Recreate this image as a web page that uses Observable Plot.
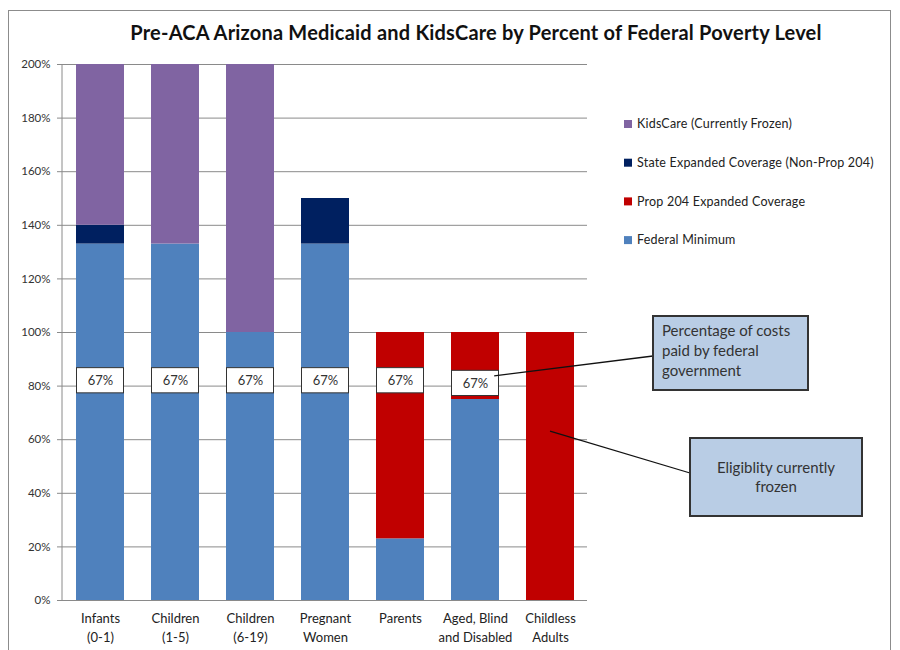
<!DOCTYPE html>
<html>
<head>
<meta charset="utf-8">
<script src="https://cdn.jsdelivr.net/npm/d3@7"></script>
<script src="https://cdn.jsdelivr.net/npm/@observablehq/plot@0.6"></script>
<style>
  html, body { margin: 0; padding: 0; background: #fff; }
  body { width: 900px; height: 650px; position: relative; overflow: hidden; font-family: Lato, "Open Sans", sans-serif; }
  #frame { position: absolute; left: 8px; top: 10px; width: 883px; height: 700px; border: 1px solid #8c8c8c; box-sizing: border-box; }
  #title { position: absolute; left: 40px; width: 872px; top: 20px; text-align: center; font: bold 20px Lato, sans-serif; color: #111; letter-spacing: 0.2px; }
  #chart { position: absolute; left: 0; top: 50px; }
</style>
</head>
<body>
<div id="frame"></div>
<div id="title">Pre-ACA Arizona Medicaid and KidsCare by Percent of Federal Poverty Level</div>
<div id="chart"></div>
<script>
// ---- data ----
const categories = ["Infants (0-1)", "Children (1-5)", "Children (6-19)", "Pregnant Women", "Parents", "Aged, Blind and Disabled", "Childless Adults"];
const xLabels = ["Infants\n(0-1)", "Children\n(1-5)", "Children\n(6-19)", "Pregnant\nWomen", "Parents", "Aged, Blind\nand Disabled", "Childless\nAdults"];
const seriesNames = ["Federal Minimum", "Prop 204 Expanded Coverage", "State Expanded Coverage (Non-Prop 204)", "KidsCare (Currently Frozen)"];
const seriesColors = ["#4F81BD", "#C00000", "#002060", "#8064A2"];
const federalMinimum = [133, 133, 100, 133, 23, 75, 0];
const prop204 = [0, 0, 0, 0, 77, 25, 100];
const stateExpanded = [7, 0, 0, 17, 0, 0, 0];
const kidsCare = [60, 67, 100, 0, 0, 0, 0];
const fedShareLabels = ["67%", "67%", "67%", "67%", "67%", "67%", null];
const fedShareY = [82, 82, 82, 82, 82, 81, null];
const yTicks = [0, 20, 40, 60, 80, 100, 120, 140, 160, 180, 200];
const callout1 = ["Percentage of costs", "paid by federal", "government"];
const callout2 = ["Eligiblity currently", "frozen"];

// ---- build tables ----
const seriesValues = [federalMinimum, prop204, stateExpanded, kidsCare];
const rows = [];
seriesNames.forEach((s, si) => categories.forEach((c, ci) => {
  rows.push({category: c, series: s, value: seriesValues[si][ci]});
}));
const labelRows = categories.map((c, i) => ({category: c, label: fedShareLabels[i], y: fedShareY[i]})).filter(d => d.label);

const chart = Plot.plot({
  width: 900,
  height: 600,
  marginLeft: 62,
  marginRight: 313,
  marginTop: 14,
  marginBottom: 50,
  style: {fontFamily: "Lato, sans-serif", color: "#222", background: "transparent"},
  x: {domain: categories, paddingInner: 0.36, paddingOuter: 0.18},
  y: {domain: [0, 200]},
  color: {domain: seriesNames, range: seriesColors},
  marks: [
    Plot.gridY(yTicks, {stroke: "#8a8a8a", strokeOpacity: 1, strokeWidth: 1}),
    Plot.barY(rows, {x: "category", y: "value", fill: "series", order: seriesNames}),
    Plot.barY(labelRows, {x: "category", y1: d => d.y - 4.7, y2: d => d.y + 4.7, fill: "white", stroke: "#333", strokeWidth: 1, insetLeft: 0.5, insetRight: 0.5}),
    Plot.text(labelRows, {x: "category", y: "y", text: "label", fontSize: 13, fill: "#333"}),
    Plot.ruleY([0], {stroke: "#8a8a8a"}),
    Plot.axisY({ticks: yTicks, tickFormat: d => d + "%", tickSize: 5, tickPadding: 7, fontSize: 11.5, fill: "#333", stroke: "#8a8a8a", label: null}),
    Plot.axisX({tickSize: 0, tickPadding: 10, fontSize: 13, fill: "#222", lineHeight: 1.4, tickFormat: (d) => xLabels[categories.indexOf(d)], label: null})
  ]
});
document.getElementById("chart").appendChild(chart);

// ---- y axis line, legend and callouts ----
const svg = d3.select(chart);
const xs = chart.scale("x");
const ys = chart.scale("y");
const bw = xs.bandwidth;
svg.append("line").attr("x1", 62).attr("x2", 62).attr("y1", ys.apply(200)).attr("y2", ys.apply(0)).attr("stroke", "#8a8a8a");

const legendOrder = [3, 2, 1, 0];
const lg = svg.append("g").attr("font-family", "Lato, sans-serif").attr("font-size", 12.5).attr("fill", "#222").attr("text-anchor", "start");
legendOrder.forEach((si, k) => {
  const yy = 74 + k * 38.7;
  lg.append("rect").attr("x", 624).attr("y", yy - 4).attr("width", 8).attr("height", 8).attr("fill", seriesColors[si]);
  lg.append("text").attr("x", 637).attr("y", yy).attr("dy", "0.35em").attr("letter-spacing", "0.2px").text(seriesNames[si]);
});

// callout 1
const aged = categories[5], childless = categories[6];
const a1x = xs.apply(aged) + bw * 0.9, a1y = ys.apply(fedShareY[5]);
svg.append("line").attr("x1", a1x).attr("y1", a1y - 7).attr("x2", 653).attr("y2", 306).attr("stroke", "#111").attr("stroke-width", 1.3);
svg.append("rect").attr("x", 653).attr("y", 266).attr("width", 155).attr("height", 74).attr("fill", "#B9CDE5").attr("stroke", "#333").attr("stroke-width", 2);
const t1 = svg.append("text").attr("font-family", "Lato, sans-serif").attr("font-size", 15).attr("fill", "#333").attr("text-anchor", "start");
callout1.forEach((s, i) => t1.append("tspan").attr("x", 662).attr("y", 286 + i * 20).text(s));

// callout 2
const a2x = xs.apply(childless) + bw * 0.5, a2y = ys.apply(63);
svg.append("line").attr("x1", a2x).attr("y1", a2y).attr("x2", 690).attr("y2", 423).attr("stroke", "#111").attr("stroke-width", 1.3);
svg.append("rect").attr("x", 690).attr("y", 388).attr("width", 172).attr("height", 78).attr("fill", "#B9CDE5").attr("stroke", "#333").attr("stroke-width", 2);
const t2 = svg.append("text").attr("font-family", "Lato, sans-serif").attr("font-size", 15).attr("fill", "#333").attr("text-anchor", "middle");
callout2.forEach((s, i) => t2.append("tspan").attr("x", 776).attr("y", 423 + i * 19).text(s));
</script>
</body>
</html>
